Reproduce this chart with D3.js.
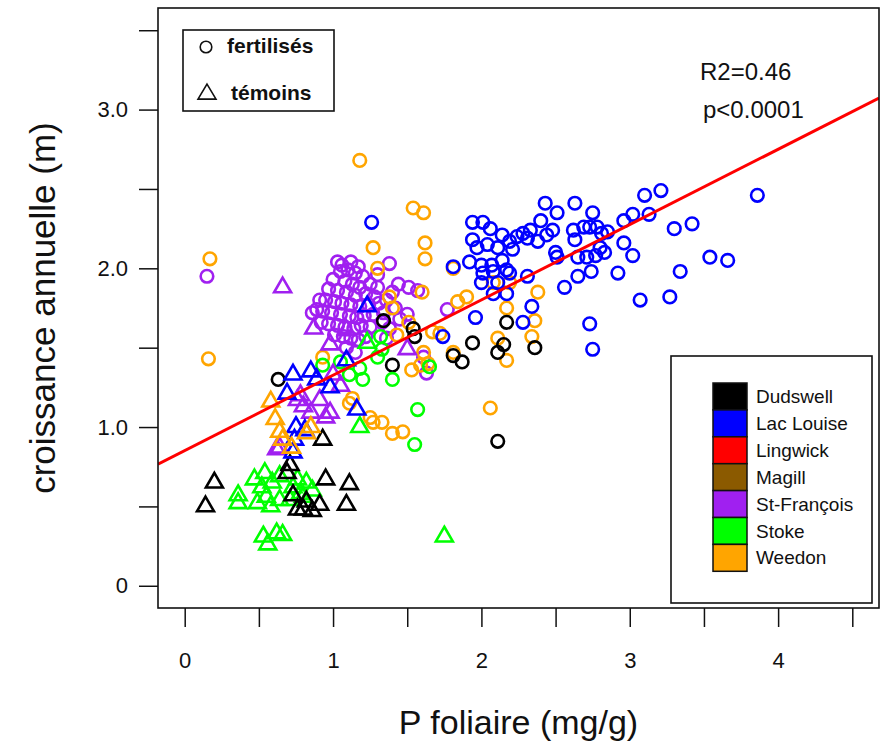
<!DOCTYPE html>
<html><head><meta charset="utf-8">
<script src="https://cdn.jsdelivr.net/npm/d3@7"></script>
<style>
html,body{margin:0;padding:0;background:#fff;}
text{font-family:"Liberation Sans",Arial,sans-serif;fill:#111;}
</style></head>
<body>
<svg id="chart" width="894" height="756"></svg>
<script>
// ---- categories ----
const sites = ["Dudswell","Lac Louise","Lingwick","Magill","St-François","Stoke","Weedon"];
const siteColors = ["#000000","#0000FF","#FF0000","#8B5A00","#A020F0","#00FF00","#FFA500"];
const treatments = ["fertilisés","témoins"];

// ---- tick labels ----
const xTickValues = [0,0.5,1,1.5,2,2.5,3,3.5,4,4.5];
const xTickLabels = ["0","","1","","2","","3","","4",""];
const yTickValues = [0,0.5,1,1.5,2,2.5,3,3.5];
const yTickLabels = ["0","","1.0","","2.0","","3.0",""];

// ---- regression (intercept, slope) and stats ----
const fit = [0.852, 0.4745];
const statTexts = ["R2=0.46","p<0.0001"];

// ---- series: [P foliaire (mg/g), croissance annuelle (m)] ----
const dudswellFert = [[1.34,1.67],[1.54,1.62],[1.55,1.57],[1.40,1.39],[0.63,1.30],[1.81,1.45],[1.87,1.41],[1.94,1.53],[2.11,1.47],[2.15,1.52],[2.17,1.66],[2.36,1.50],[2.11,0.91]];
const dudswellTem = [[0.20,0.65],[0.14,0.50],[0.95,0.67],[1.11,0.64],[1.09,0.51],[0.76,0.48],[0.86,0.47],[0.91,0.51],[0.82,0.53],[0.69,0.71],[0.73,0.57],[0.93,0.92],[0.80,0.48],[0.71,0.76]];
const lacLouiseFert = [[3.10,2.46],[3.21,2.49],[3.30,2.25],[3.34,1.98],[3.27,1.82],[3.07,1.80],[2.92,1.97],[2.96,2.16],[3.02,2.08],[2.96,2.30],[3.02,2.34],[3.13,2.34],[2.73,1.65],[2.75,1.49],[2.56,1.88],[2.65,1.95],[2.74,1.98],[2.65,2.07],[2.71,2.07],[2.77,2.08],[2.83,2.10],[2.80,2.13],[2.85,2.23],[2.81,2.22],[2.78,2.26],[2.73,2.26],[2.75,2.35],[2.69,2.26],[2.63,2.41],[2.62,2.24],[2.63,2.18],[2.51,2.35],[2.43,2.41],[2.40,2.30],[2.48,2.24],[2.44,2.21],[2.50,2.10],[2.51,2.07],[2.38,2.17],[2.33,2.24],[2.28,2.22],[2.31,2.19],[2.24,2.20],[2.19,2.17],[2.21,2.12],[2.14,2.21],[2.06,2.25],[2.01,2.29],[1.94,2.29],[1.94,2.18],[1.97,2.13],[2.04,2.15],[2.11,2.13],[2.14,2.05],[2.07,2.02],[2.00,2.02],[1.92,2.04],[2.01,1.97],[2.08,1.98],[2.17,1.99],[2.19,1.97],[2.11,1.91],[2.00,1.91],[2.31,1.95],[2.08,1.84],[2.17,1.84],[1.96,1.69],[2.28,1.66],[2.34,1.76],[1.74,1.57],[1.81,2.01],[3.42,2.28],[3.54,2.07],[3.66,2.05],[3.86,2.46],[1.26,2.29]];
const lacLouiseTem = [[1.23,1.76],[0.85,1.35],[0.73,1.33],[0.98,1.25],[1.16,1.11],[0.69,1.21],[0.89,1.30],[1.09,1.42],[0.75,1.00],[0.74,0.92],[0.73,0.84],[0.81,0.98]];
const lingwickFert = [];
const lingwickTem = [];
const magillFert = [];
const magillTem = [];
const stFrancoisFert = [[0.15,1.95],[1.03,2.04],[1.38,2.03],[1.77,1.74],[1.51,1.88],[1.57,1.86],[1.63,1.34],[0.86,1.72],[0.89,1.74],[1.50,1.71],[1.61,1.44],
 [1.05,1.98],[1.10,1.99],[1.15,1.97],[1.20,1.95],[1.00,1.93],[1.08,1.92],[1.13,1.90],[1.18,1.88],[1.25,1.90],[0.97,1.87],[1.03,1.86],[1.09,1.85],[1.15,1.83],[1.22,1.84],[1.28,1.82],[0.95,1.80],[1.01,1.79],[1.06,1.78],[1.12,1.77],[1.18,1.76],[1.24,1.77],[1.31,1.78],[0.93,1.73],[0.99,1.72],[1.05,1.71],[1.11,1.70],[1.16,1.69],[1.21,1.70],[1.27,1.71],[1.34,1.72],[0.97,1.65],[1.03,1.64],[1.08,1.63],[1.14,1.62],[1.19,1.64],[1.25,1.63],[1.01,1.58],[1.07,1.57],[1.12,1.56],[1.17,1.55],[1.22,1.57],[1.06,2.02],[1.12,2.04],[1.17,2.01],[1.30,1.88],[1.36,1.80],[1.40,1.85],[1.33,1.66],[1.09,1.50],[1.15,1.47],
 [1.42,1.75],[1.45,1.68],[1.38,1.62],[0.91,1.80],[0.92,1.66],[1.44,1.90],[1.30,1.96],[1.36,1.56]];
const stFrancoisTem = [[0.66,1.88],[0.87,1.62],[1.50,1.49],[1.00,1.33],[0.80,1.13],[0.76,1.17],[0.98,1.09],[0.95,1.06],[0.85,1.09],[0.64,0.87],[0.62,0.86],[0.78,1.20],[1.05,1.26],[0.91,1.17],[1.09,1.61],[0.98,1.52]];
const stokeFert = [[1.32,1.57],[1.30,1.44],[1.18,1.37],[1.20,1.30],[1.40,1.30],[1.65,1.38],[1.57,1.11],[1.55,0.89],[1.05,1.41],[0.93,1.39],[1.33,1.49],[1.11,1.33]];
const stokeTem = [[0.54,0.71],[0.52,0.62],[0.59,0.65],[0.64,0.69],[0.55,0.56],[0.49,0.52],[0.36,0.57],[0.36,0.52],[0.58,0.50],[0.64,0.54],[0.73,0.62],[0.78,0.58],[0.82,0.65],[0.86,0.60],[0.76,0.67],[0.53,0.31],[0.62,0.33],[0.66,0.32],[0.56,0.26],[1.18,1.00],[1.75,0.31],[1.23,1.53],[0.71,0.54],[0.80,0.56],[0.47,0.67]];
const weedonFert = [[1.18,2.68],[1.54,2.38],[1.61,2.35],[0.17,2.06],[0.16,1.43],[1.27,2.13],[1.62,2.16],[1.62,2.06],[1.30,2.00],[1.81,2.00],[1.38,1.82],[1.40,1.75],[1.60,1.85],[1.84,1.79],[1.90,1.82],[1.51,1.66],[1.43,1.58],[1.67,1.60],[1.81,1.47],[2.11,1.56],[2.17,1.42],[0.93,1.44],[1.13,1.18],[1.53,1.36],[1.61,1.47],[2.08,1.91],[2.19,1.91],[2.17,1.75],[2.38,1.85],[2.36,1.67],[2.34,1.57],[2.06,1.12],[1.40,0.96],[1.33,1.03],[1.25,1.06],[1.59,1.39],[1.64,1.40],[1.72,1.59],[1.11,1.15],[1.27,1.03],[1.47,0.97]];
const weedonTem = [[0.58,1.16],[0.61,1.05],[0.64,0.97],[0.82,0.96],[0.72,0.87],[0.85,1.00],[0.66,0.92]];

// ---- drawing ----
const svg = d3.select("#chart");
const W = 894, H = 756;
const box = {left:158, right:879, top:8, bottom:608};
const x = d3.scaleLinear().domain([-0.18, 4.68]).range([box.left, box.right]);
const y = d3.scaleLinear().domain([-0.14, 3.64]).range([box.bottom, box.top]);

svg.append("rect").attr("width",W).attr("height",H).attr("fill","#fff");

svg.append("defs").append("clipPath").attr("id","plotclip")
  .append("rect").attr("x",box.left).attr("y",box.top)
  .attr("width",box.right-box.left).attr("height",box.bottom-box.top);

// axes
const yAxis = d3.axisLeft(y).tickValues(yTickValues).tickSize(19).tickPadding(11)
  .tickFormat((d,i)=>yTickLabels[i]);
const gy = svg.append("g").attr("transform",`translate(${box.left},0)`).call(yAxis);
const xAxis = d3.axisBottom(x).tickValues(xTickValues).tickSize(19).tickPadding(25)
  .tickFormat((d,i)=>xTickLabels[i]);
const gx = svg.append("g").attr("transform",`translate(0,${box.bottom})`).call(xAxis);
[gx,gy].forEach(g=>{
  g.select(".domain").remove();
  g.selectAll(".tick line").attr("stroke","#111").attr("stroke-width",1.5);
  g.selectAll(".tick text").attr("font-size",22).attr("fill","#111")
    .style("font-family","'Liberation Sans',Arial,sans-serif");
});

// axis titles
svg.append("text").attr("x",(box.left+box.right)/2).attr("y",734)
  .attr("text-anchor","middle").attr("font-size",34).text("P foliaire (mg/g)");
svg.append("text").attr("transform",`translate(55,${(box.top+box.bottom)/2}) rotate(-90)`)
  .attr("text-anchor","middle").attr("font-size",35).text("croissance annuelle (m)");

// points
const rC = 6.3;
function triPath(cx, cy){
  const xc = rC;
  const t0 = 1.5551203*xc, t1 = 1.3467737*xc, t2 = 0.7775602*xc;
  return `M${cx},${cy-t0}L${cx+t1},${cy+t2}L${cx-t1},${cy+t2}Z`;
}
const gp = svg.append("g").attr("clip-path","url(#plotclip)");
function drawCircles(data, col){
  gp.append("g").selectAll("circle").data(data).join("circle")
    .attr("cx",d=>x(d[0])).attr("cy",d=>y(d[1])).attr("r",rC)
    .attr("fill","none").attr("stroke",col).attr("stroke-width",2.6);
}
function drawTriangles(data, col){
  gp.append("g").selectAll("path").data(data).join("path")
    .attr("d",d=>triPath(x(d[0]),y(d[1])))
    .attr("fill","none").attr("stroke",col).attr("stroke-width",2.6)
    .attr("stroke-linejoin","miter");
}
drawCircles(stFrancoisFert, siteColors[4]);
drawCircles(weedonFert, siteColors[6]);
drawCircles(lacLouiseFert, siteColors[1]);
drawCircles(lingwickFert, siteColors[2]);
drawCircles(magillFert, siteColors[3]);
drawCircles(dudswellFert, siteColors[0]);
drawCircles(stokeFert, siteColors[5]);
drawTriangles(stokeTem, siteColors[5]);
drawTriangles(dudswellTem, siteColors[0]);
drawTriangles(stFrancoisTem, siteColors[4]);
drawTriangles(lingwickTem, siteColors[2]);
drawTriangles(magillTem, siteColors[3]);
drawTriangles(lacLouiseTem, siteColors[1]);
drawTriangles(weedonTem, siteColors[6]);

// regression line
const xd = x.domain();
gp.append("line")
  .attr("x1",x(xd[0])).attr("y1",y(fit[0]+fit[1]*xd[0]))
  .attr("x2",x(xd[1])).attr("y2",y(fit[0]+fit[1]*xd[1]))
  .attr("stroke","#FF0000").attr("stroke-width",3);

// plot box
svg.append("rect").attr("x",box.left).attr("y",box.top)
  .attr("width",box.right-box.left).attr("height",box.bottom-box.top)
  .attr("fill","none").attr("stroke","#111").attr("stroke-width",1.6);

// treatment legend
svg.append("rect").attr("x",183).attr("y",30).attr("width",151).attr("height",81)
  .attr("fill","#fff").attr("stroke","#111").attr("stroke-width",1.6);
svg.append("circle").attr("cx",206).attr("cy",47).attr("r",5.8)
  .attr("fill","none").attr("stroke","#111").attr("stroke-width",1.6);
svg.append("path").attr("d",(()=>{const cx=207,cy=94,w=9,h=15;return `M${cx},${cy-h*0.66}L${cx+w},${cy+h*0.34}L${cx-w},${cy+h*0.34}Z`;})())
  .attr("fill","none").attr("stroke","#111").attr("stroke-width",1.6);
svg.append("text").attr("x",227).attr("y",53).attr("font-size",21).attr("font-weight","bold").text(treatments[0]);
svg.append("text").attr("x",231).attr("y",100).attr("font-size",21).attr("font-weight","bold").text(treatments[1]);

// stats text
svg.append("text").attr("x",700).attr("y",80).attr("font-size",24).text(statTexts[0]);
svg.append("text").attr("x",703).attr("y",118).attr("font-size",24).text(statTexts[1]);

// site legend
svg.append("rect").attr("x",671).attr("y",356).attr("width",201).attr("height",247)
  .attr("fill","#fff").attr("stroke","#111").attr("stroke-width",1.6);
const lg = svg.append("g");
const pitch = 26.9, sy0 = 383;
sites.forEach((s,i)=>{
  lg.append("rect").attr("x",713).attr("y",sy0+i*pitch).attr("width",34).attr("height",pitch)
    .attr("fill",siteColors[i]).attr("stroke","#111").attr("stroke-width",1.5);
  lg.append("text").attr("x",756).attr("y",sy0+i*pitch+20).attr("font-size",19).text(s);
});
</script>
</body></html>
